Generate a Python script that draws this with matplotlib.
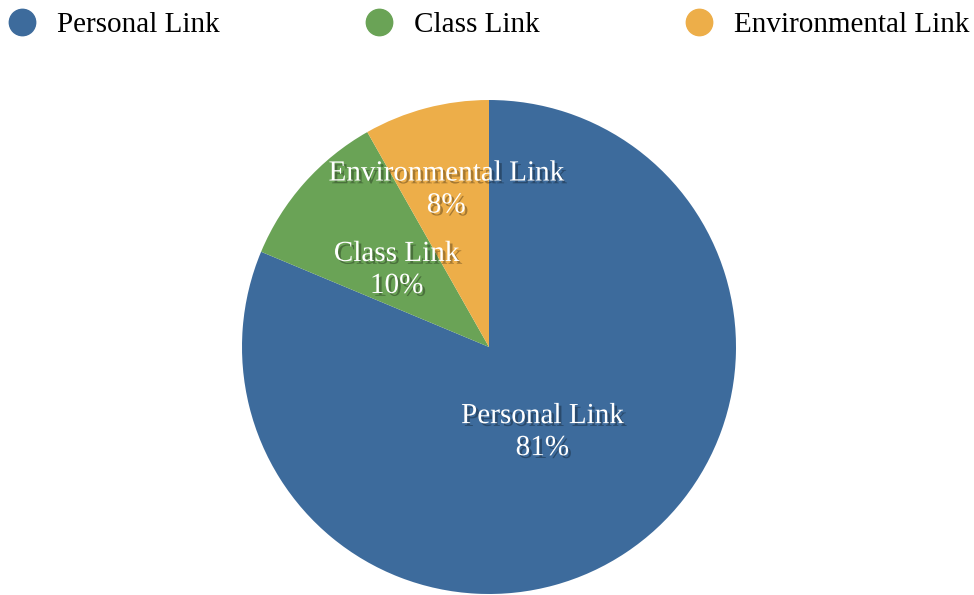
import numpy as np
import matplotlib.pyplot as plt
import matplotlib.patheffects as pe
from matplotlib.lines import Line2D

# data
labels = ['Personal Link', 'Class Link', 'Environmental Link']
values = [81.3, 10.5, 8.2]
pct_text = ['81%', '10%', '8%']
colors = ['#3d6b9c', '#6aa356', '#edae49']
label_radius = [0.39, 0.50, 0.68]

plt.rcParams['font.family'] = ['Liberation Serif', 'DejaVu Serif']

fig = plt.figure(figsize=(9.74, 5.95), dpi=100)
ax = fig.add_axes([242 / 974, 1 / 595, 494 / 974, 494 / 595])

wedges, _ = ax.pie(values, colors=colors, startangle=90, counterclock=False,
                   radius=1, wedgeprops=dict(linewidth=0))
ax.set_xlim(-1, 1)
ax.set_ylim(-1, 1)
ax.set_aspect('equal')
ax.axis('off')

shadow = [pe.SimplePatchShadow(offset=(2, -2), shadow_rgbFace='black', alpha=0.3), pe.Normal()]
for w, lab, pct, r in zip(wedges, labels, pct_text, label_radius):
    ang = np.deg2rad((w.theta1 + w.theta2) / 2)
    ax.text(r * np.cos(ang), r * np.sin(ang) - 0.02, lab + '\n' + pct, ha='center', va='center',
            color='white', fontsize=21, linespacing=1.3, path_effects=shadow)

handles = [Line2D([], [], marker='o', linestyle='none', markersize=19,
                  markerfacecolor=c, markeredgecolor=c) for c in colors]
fig.legend(handles, labels, loc='upper left', bbox_to_anchor=(0.0036, 0.988), ncol=3,
           frameon=False, fontsize=21, handletextpad=0.7, columnspacing=4.95,
           handlelength=1.0, borderaxespad=0, borderpad=0.15)

fig.savefig('out.png', dpi=100)
